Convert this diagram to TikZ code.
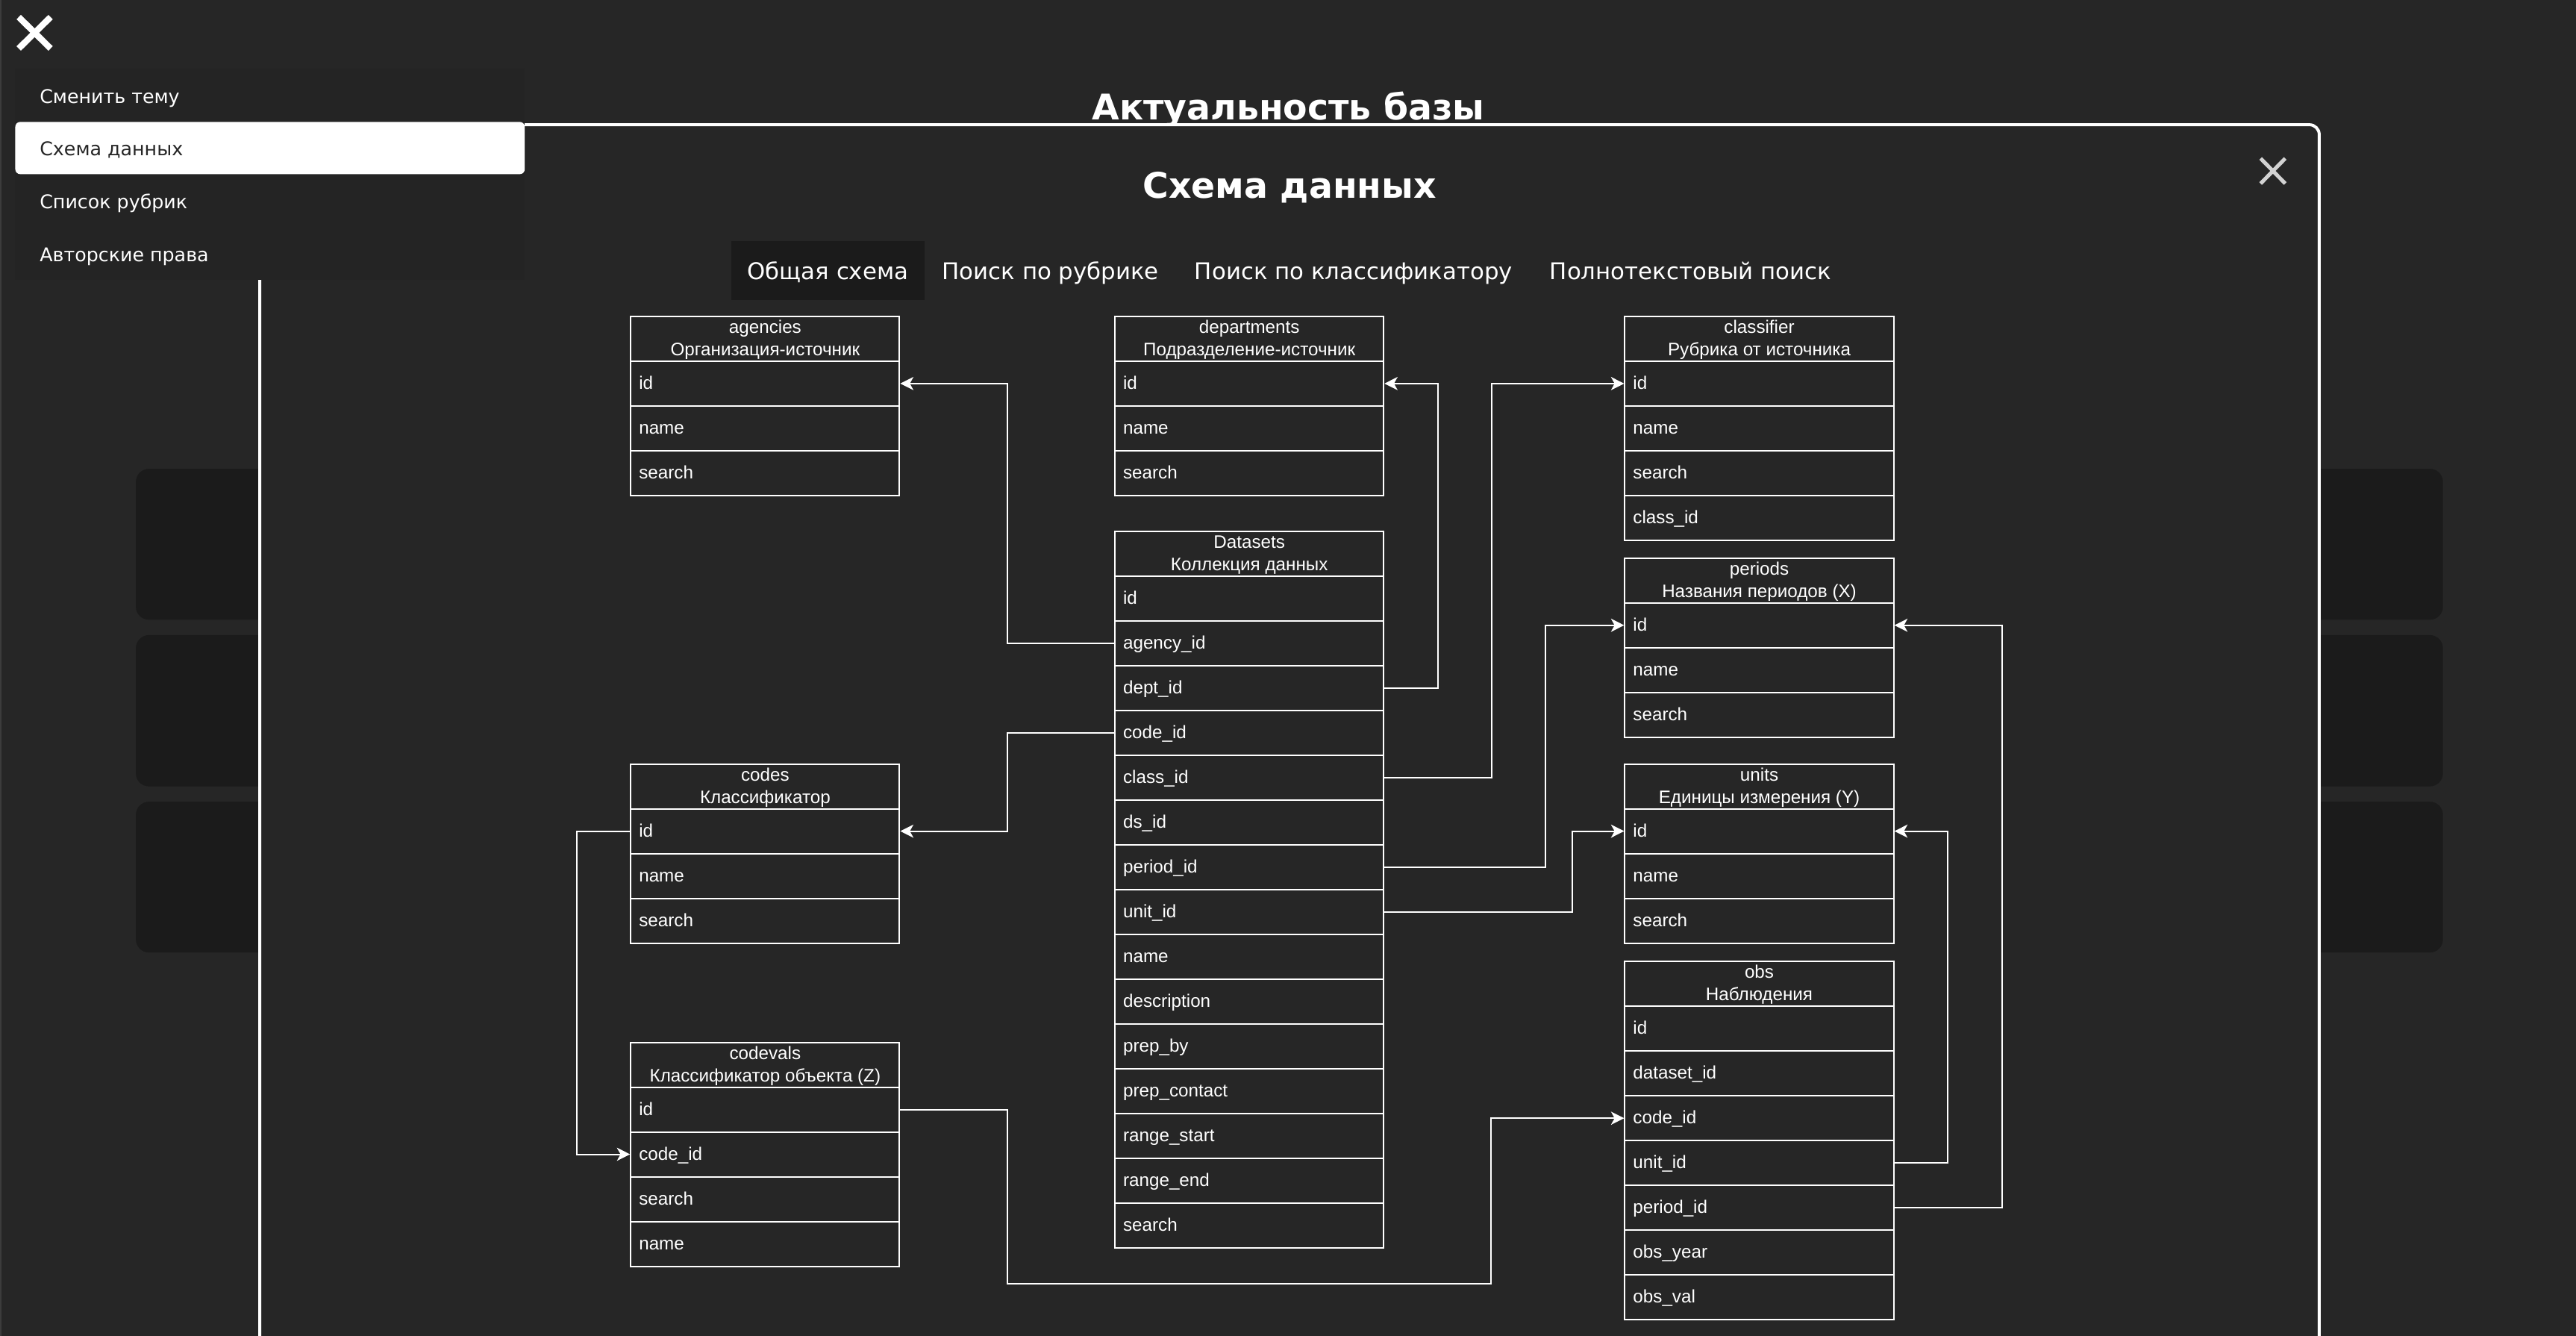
\documentclass[tikz,border=0pt]{standalone}
\usepackage{fontspec}
\setmainfont{Liberation Sans}
\newfontfamily\uifont{DejaVu Sans}
\usetikzlibrary{arrows.meta}
\definecolor{bgc}{HTML}{262626}
\definecolor{panelc}{HTML}{1B1B1B}
\definecolor{menuc}{HTML}{242424}
\definecolor{closec}{HTML}{D2D2D2}
\definecolor{edgec}{HTML}{3C3C3C}
\newcommand\dbtab[6]{%
  \node[headbox] (#1-h) at (#2,#3) {};
  \node[htxt] (#1-ta) at ([yshift=-10.7pt]#1-h.north) {#4};
  \node[htxt] (#1-tb) at ([yshift=-24.3pt]#1-h.north) {#5};
  \foreach \fld [count=\i] in {#6} {\node[rowbox] (#1-\i) at ({#2},{#3+27.25*\i}) {\fld};}
}
\begin{document}
\begin{tikzpicture}[x=1pt,y=-1pt,
  rowbox/.style={draw=white,line width=0.9pt,minimum width=163.6pt,minimum height=27.25pt,
    inner sep=0pt,inner xsep=5pt,text width=153.6pt,align=left,text height=8.4pt,text depth=1.6pt,
    anchor=north west,text=white,font=\fontsize{11}{13}\selectfont},
  headbox/.style={draw=white,line width=0.9pt,minimum width=163.6pt,minimum height=27.25pt,inner sep=0pt,anchor=north west},
  htxt/.style={text=white,inner sep=0pt,anchor=base,font=\fontsize{11}{13}\selectfont},
  conn/.style={draw=white,line width=0.9pt,-{Stealth[length=8pt,width=8pt,inset=2.2pt]}},
  menutxt/.style={inner sep=0pt,anchor=base west,font=\uifont\fontsize{11.5}{14}\selectfont},
  tabtxt/.style={text=white,inner sep=0pt,anchor=base west,font=\uifont\fontsize{14}{17}\selectfont},
  bigtitle/.style={text=white,inner sep=0pt,anchor=base,font=\uifont\bfseries\fontsize{21.5}{26}\selectfont},
  panel/.style={fill=panelc,rounded corners=8pt},
]
\useasboundingbox (0,0) rectangle (1568,813);
\clip (0,0) rectangle (1568,813);
\fill[bgc] (0,0) rectangle (1568,813);
\fill[edgec] (0,0) rectangle (0.9,813);
% background panels
\fill[panel] (82.7,285.3) rectangle (1487,377.2);
\fill[panel] (82.7,386.5) rectangle (1487,478.6);
\fill[panel] (82.7,487.9) rectangle (1487,579.7);
% page title
\node[bigtitle] (pagetitle) at (784.2,72.7) {Актуальность базы};
% modal
\draw[white,line width=1.8pt,fill=bgc,rounded corners=6pt] (158.1,75.9) rectangle (1411.7,840);
% side menu
\fill[menuc] (9,42) rectangle (319.4,170.5);
\fill[white,rounded corners=3pt] (9.3,74.2) rectangle (319.4,106);
\node[menutxt,text=white] (m1) at (24,62.8) {Сменить тему};
\node[menutxt,text=bgc] (m2) at (24,94.6) {Схема данных};
\node[menutxt,text=white] (m3) at (24,127) {Список рубрик};
\node[menutxt,text=white] (m4) at (24,159.3) {Авторские права};
\draw[white,line width=3.8pt] (11.4,10.4) -- (30.8,29.5) (30.8,10.4) -- (11.4,29.5);
% modal title and close
\node[bigtitle] (modaltitle) at (785,120.4) {Схема данных};
\draw[closec,line width=2.3pt] (1376,96.4) -- (1391,111.7) (1391,96.4) -- (1376,111.7);
% tabs
\fill[panelc] (445.3,146.6) rectangle (562.8,182.5);
\node[tabtxt] (tab1) at (454.7,170.3) {Общая схема};
\node[tabtxt] (tab2) at (573.3,170.3) {Поиск по рубрике};
\node[tabtxt] (tab3) at (727,170.3) {Поиск по классификатору};
\node[tabtxt] (tab4) at (943.2,170.3) {Полнотекстовый поиск};
% tables
\dbtab{agencies}{383.5}{192.1}{agencies}{Организация-источник}{id,name,search}
\dbtab{departments}{678.2}{192.1}{departments}{Подразделение-источник}{id,name,search}
\dbtab{classifier}{988.6}{192.1}{classifier}{Рубрика от источника}{id,name,search,class\_id}
\dbtab{periods}{988.6}{339.2}{periods}{Названия периодов (X)}{id,name,search}
\dbtab{ds}{678.2}{322.8}{Datasets}{Коллекция данных}{id,agency\_id,dept\_id,code\_id,class\_id,ds\_id,period\_id,unit\_id,name,description,prep\_by,prep\_contact,range\_start,range\_end,search}
\dbtab{codes}{383.5}{464.5}{codes}{Классификатор}{id,name,search}
\dbtab{codevals}{383.5}{633.9}{codevals}{Классификатор объекта (Z)}{id,code\_id,search,name}
\dbtab{units}{988.6}{464.5}{units}{Единицы измерения (Y)}{id,name,search}
\dbtab{obs}{988.6}{584.7}{obs}{Наблюдения}{id,dataset\_id,code\_id,unit\_id,period\_id,obs\_year,obs\_val}
% connectors
\draw[conn] (ds-2.west) -- ++(-65.2,0) |- (agencies-1.east);
\draw[conn] (ds-3.east) -- ++(32.4,0) |- (departments-1.east);
\draw[conn] (ds-5.east) -- ++(65.3,0) |- (classifier-1.west);
\draw[conn] (ds-7.east) -- ++(97.9,0) |- (periods-1.west);
\draw[conn] (ds-8.east) -- ++(114.3,0) |- (units-1.west);
\draw[conn] (ds-4.west) -- ++(-65.2,0) |- (codes-1.east);
\draw[conn] (codes-1.west) -- ++(-32.5,0) |- (codevals-2.west);
\draw[conn] (codevals-1.east) -- ++(65.4,0) -- ++(0,106.2) -- ++(294.2,0) |- (obs-3.west);
\draw[conn] (obs-4.east) -- ++(32.6,0) |- (units-1.east);
\draw[conn] (obs-5.east) -- ++(65.5,0) |- (periods-1.east);
\end{tikzpicture}
\end{document}
